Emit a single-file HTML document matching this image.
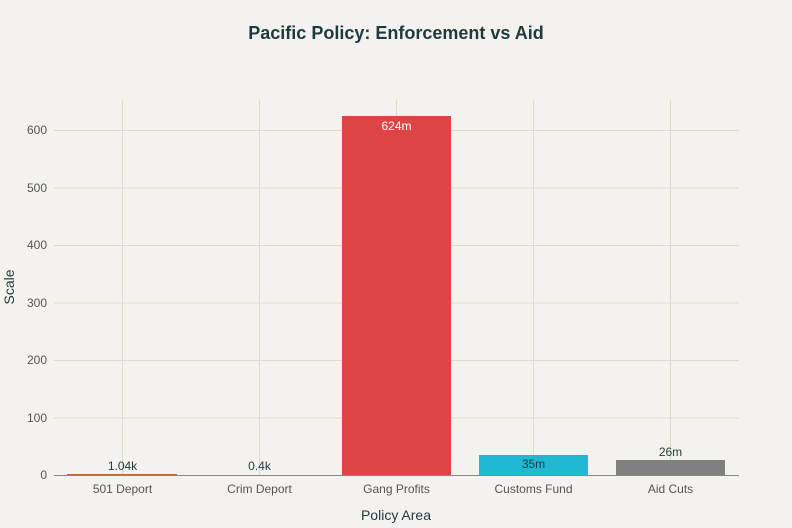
<!DOCTYPE html>
<html><head><meta charset="utf-8"><style>
body{margin:0;background:#f3f2ee;}
svg{display:block;font-family:"Liberation Sans",sans-serif;}
</style></head><body>
<svg width="792" height="528" viewBox="0 0 792 528">
<rect width="792" height="528" fill="#f3f2ee"/>
<text x="396" y="39" text-anchor="middle" font-size="18" font-weight="bold" fill="#1f3a3d">Pacific Policy: Enforcement vs Aid</text>
<g stroke="#dcd9d0" stroke-width="1">
<line x1="54" x2="739" y1="130.5" y2="130.5"/>
<line x1="54" x2="739" y1="188" y2="188"/>
<line x1="54" x2="739" y1="245.5" y2="245.5"/>
<line x1="54" x2="739" y1="303" y2="303"/>
<line x1="54" x2="739" y1="360.5" y2="360.5"/>
<line x1="54" x2="739" y1="418" y2="418"/>
<line x1="122.5" x2="122.5" y1="100" y2="475"/>
<line x1="259.5" x2="259.5" y1="100" y2="475"/>
<line x1="396.5" x2="396.5" y1="100" y2="475"/>
<line x1="533.5" x2="533.5" y1="100" y2="475"/>
<line x1="670.5" x2="670.5" y1="100" y2="475"/>
</g>
<g font-size="12" fill="#555" text-anchor="end">
<text x="47" y="134">600</text><text x="47" y="192">500</text><text x="47" y="249">400</text>
<text x="47" y="307">300</text><text x="47" y="364">200</text><text x="47" y="422">100</text><text x="47" y="479">0</text>
</g>
<rect x="67" y="474" width="110" height="1.5" fill="#c0623f"/>
<rect x="342" y="116" width="109" height="359" fill="#dc4446"/>
<rect x="479" y="455" width="109" height="20" fill="#1fb9d2"/>
<rect x="616" y="460" width="109" height="15" fill="#808080"/>
<line x1="54" x2="739" y1="475.5" y2="475.5" stroke="#888" stroke-width="1"/>
<g font-size="12" text-anchor="middle">
<text x="122.5" y="470" fill="#1f3a3d">1.04k</text>
<text x="259.5" y="470" fill="#1f3a3d">0.4k</text>
<text x="396.5" y="130" fill="#fff">624m</text>
<text x="533.5" y="468" fill="#1f3a3d">35m</text>
<text x="670.5" y="456" fill="#1f3a3d">26m</text>
</g>
<g font-size="12" fill="#555" text-anchor="middle">
<text x="122.5" y="493">501 Deport</text><text x="259.5" y="493">Crim Deport</text>
<text x="396.5" y="493">Gang Profits</text><text x="533.5" y="493">Customs Fund</text>
<text x="670.5" y="493">Aid Cuts</text>
</g>
<text x="396" y="520" text-anchor="middle" font-size="14" fill="#1f3a3d">Policy Area</text>
<text transform="translate(14,287) rotate(-90)" text-anchor="middle" font-size="14" fill="#1f3a3d">Scale</text>
</svg>
</body></html>
